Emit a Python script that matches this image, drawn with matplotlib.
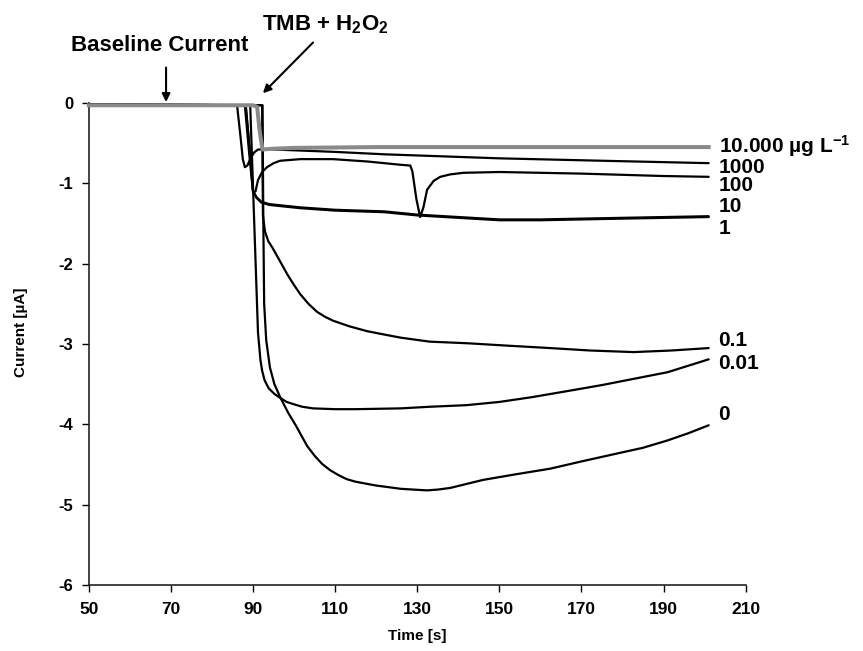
import matplotlib
matplotlib.use("Agg")
import matplotlib.pyplot as plt

plt.rcParams['font.family'] = ['Liberation Sans', 'DejaVu Sans']
plt.rcParams['font.weight'] = 'bold'
plt.rcParams['axes.unicode_minus'] = False
plt.rcParams['mathtext.fontset'] = 'custom'
plt.rcParams['mathtext.rm'] = 'Liberation Sans:bold'
plt.rcParams['mathtext.bf'] = 'Liberation Sans:bold'
plt.rcParams['mathtext.default'] = 'bf'

# ── data (time in s, current in µA) ────────────────────────────────

t_10000 = [50, 60, 70, 80, 90, 91.0, 91.6, 92.3, 95, 100, 120, 150, 180, 201]
i_10000 = [-0.03, -0.03, -0.03, -0.03, -0.03, -0.05, -0.35, -0.58, -0.57, -0.56, -0.55, -0.55, -0.55, -0.55]

t_1000 = [50, 86.1, 87.0, 87.5, 88.0, 88.6, 89.3, 90.2, 91.2, 95, 100, 110, 122, 150, 175, 201]
i_1000 = [-0.02, -0.03, -0.45, -0.7, -0.8, -0.78, -0.7, -0.62, -0.58, -0.58, -0.59, -0.61, -0.64, -0.69, -0.72, -0.75]

t_100 = [50, 88.0, 89.0, 90.0, 90.6, 91.2, 92.2, 93.4, 95.0, 96.6, 101.5, 109.5, 118, 125.9, 128.3,
         128.8, 129.8, 130.7, 131.5, 132.4, 134.0, 135.6, 138, 141.2, 150, 170, 190, 201]
i_100 = [-0.02, -0.03, -0.6, -1.12, -1.1, -0.96, -0.86, -0.8, -0.75, -0.72, -0.7, -0.7, -0.73, -0.77, -0.78,
         -0.85, -1.2, -1.42, -1.3, -1.08, -0.97, -0.92, -0.89, -0.87, -0.86, -0.88, -0.91, -0.92]

t_10 = [50, 88.2, 89.2, 90.0, 90.8, 92, 94, 101.5, 110, 122, 130, 150, 160, 180, 201]
i_10 = [-0.02, -0.03, -0.6, -1.1, -1.17, -1.23, -1.26, -1.3, -1.33, -1.35, -1.39, -1.45, -1.45, -1.43, -1.41]

t_1 = [50, 88.2, 89.2, 90.0, 90.8, 92, 94, 101.5, 110, 122, 130, 150, 160, 180, 201]
i_1 = [-0.02, -0.03, -0.6, -1.1, -1.18, -1.24, -1.27, -1.31, -1.34, -1.36, -1.4, -1.46, -1.46, -1.44, -1.42]

t_01 = [50, 92.2, 92.4, 92.9, 93.7, 94.7, 95.8, 97.0, 98.3, 99.9, 101.5, 103.5, 105.6, 107.5, 109.5,
        113.5, 117.8, 121.8, 125.9, 133, 142.2, 152, 162.4, 172, 182.7, 192, 201]
i_01 = [-0.02, -0.03, -1.4, -1.6, -1.72, -1.8, -1.9, -2.01, -2.13, -2.26, -2.38, -2.5, -2.6, -2.66, -2.71,
        -2.78, -2.84, -2.88, -2.92, -2.97, -2.99, -3.02, -3.05, -3.08, -3.1, -3.08, -3.05]

t_001 = [50, 89.3, 91.2, 91.8, 92.2, 92.8, 93.8, 95.2, 96.6, 98.2, 100, 102, 104.6, 110, 115, 126, 133,
         142, 150, 158, 166, 175, 183, 191, 201]
i_001 = [-0.02, -0.03, -2.86, -3.2, -3.33, -3.45, -3.55, -3.62, -3.67, -3.72, -3.75, -3.78, -3.8, -3.81,
         -3.81, -3.8, -3.78, -3.76, -3.72, -3.66, -3.59, -3.51, -3.43, -3.35, -3.19]

t_0 = [50, 92.3, 92.5, 92.7, 93.2, 94.1, 95.2, 96.6, 98.5, 100.5, 102, 103.2, 105, 106.8, 108.8, 110.8,
       112.8, 114.8, 116.8, 120, 123, 125.9, 129, 132.4, 135, 138, 142, 146, 154, 162.4, 170, 178.8,
       185, 190.9, 196, 201]
i_0 = [-0.02, -0.03, -1.5, -2.5, -2.95, -3.29, -3.5, -3.66, -3.85, -4.02, -4.16, -4.27, -4.39, -4.49,
       -4.57, -4.63, -4.68, -4.71, -4.73, -4.76, -4.78, -4.8, -4.81, -4.82, -4.81, -4.79, -4.74, -4.69,
       -4.62, -4.55, -4.46, -4.36, -4.29, -4.2, -4.11, -4.01]

curve_labels = ['10.000 µg L$^{-1}$', '1000', '100', '10', '1', '0.1', '0.01', '0']
label_y = [-0.54, -0.81, -1.03, -1.29, -1.56, -2.95, -3.24, -3.88]

x_ticks = [50, 70, 90, 110, 130, 150, 170, 190, 210]
y_ticks = [0, -1, -2, -3, -4, -5, -6]

# ── figure ──────────────────────────────────────────────────────

fig = plt.figure(figsize=(8.63, 6.51), dpi=100)
ax = fig.add_axes([0.103, 0.101, 0.761, 0.741])

black_curves = [(t_1000, i_1000), (t_100, i_100), (t_10, i_10), (t_1, i_1),
                (t_01, i_01), (t_001, i_001), (t_0, i_0)]
for t, i in black_curves:
    ax.plot(t, i, color='black', lw=1.6, solid_capstyle='round',
            solid_joinstyle='round', clip_on=False, zorder=3)

ax.plot(t_10000, i_10000, color='#8a8a8a', lw=2.9, clip_on=False, zorder=4)

# curve labels at the right end
for text, y in zip(curve_labels, label_y):
    ax.text(203.4, y, text, fontsize=15, fontweight='bold', ha='left', va='center')

# annotations
ax.text(67.3, 0.71, 'Baseline Current', ha='center', va='center',
        fontsize=16, fontweight='bold')
ax.annotate('', xy=(68.8, 0.01), xytext=(68.8, 0.44),
            arrowprops=dict(arrowstyle='-|>', color='black', lw=1.5,
                            mutation_scale=12, shrinkA=0, shrinkB=0),
            annotation_clip=False)
ax.annotate('', xy=(92.4, 0.12), xytext=(104.6, 0.75),
            arrowprops=dict(arrowstyle='-|>', color='black', lw=1.5,
                            mutation_scale=12, shrinkA=0, shrinkB=0),
            annotation_clip=False)
ax.text(107.5, 0.97, 'TMB + H$_2$O$_2$', ha='center', va='center',
        fontsize=16, fontweight='bold')

ax.set_xlim(50, 210)
ax.set_ylim(-6, 0)
ax.set_xticks(x_ticks)
ax.set_yticks(y_ticks)
ax.tick_params(axis='x', direction='out', length=5, width=1, pad=7, labelsize=12.5)
ax.tick_params(axis='y', direction='out', length=5, width=1, pad=6, labelsize=12)
for lab in ax.get_xticklabels() + ax.get_yticklabels():
    lab.set_fontweight('bold')

for side in ['top', 'right']:
    ax.spines[side].set_visible(False)
for side in ['left', 'bottom']:
    ax.spines[side].set_linewidth(1.2)
    ax.spines[side].set_color('#222222')

ax.set_xlabel('Time [s]', fontsize=11, fontweight='bold', labelpad=9)
ax.set_ylabel('Current [µA]', fontsize=11, fontweight='bold', labelpad=20)
ax.yaxis.set_label_coords(-0.093, 0.525)

fig.savefig('out.png', dpi=100)
